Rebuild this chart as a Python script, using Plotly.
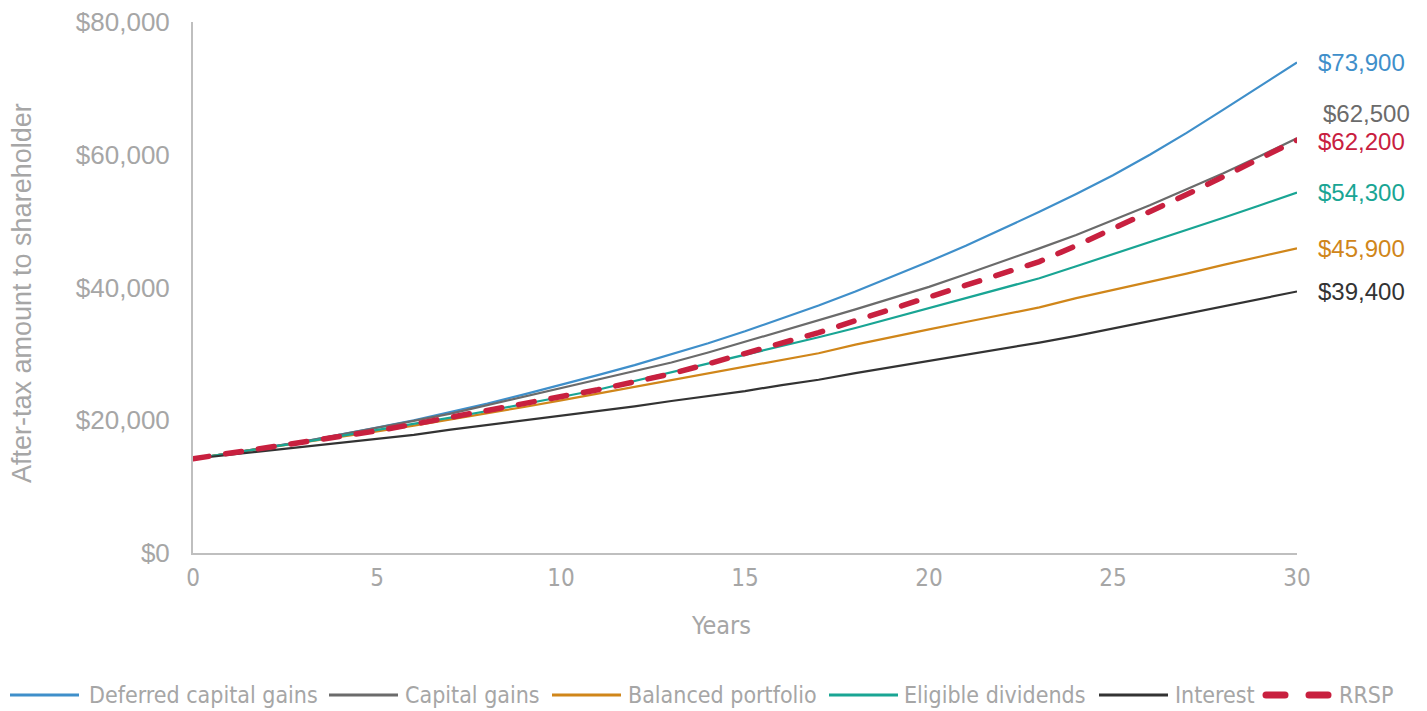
import plotly.graph_objects as go

years = list(range(0, 31))

deferred_cg = [14.2, 15.0, 15.9, 16.8, 17.8, 18.9, 20.0, 21.2, 22.5, 23.9, 25.3,
               26.8, 28.3, 29.9, 31.6, 33.4, 35.3, 37.3, 39.4, 41.6, 43.9,
               46.3, 48.8, 51.4, 54.1, 56.9, 60.0, 63.3, 66.8, 70.3, 73.9]
capital_gains = [14.2, 15.0, 15.9, 16.8, 17.8, 18.8, 19.9, 21.0, 22.3, 23.6, 24.8,
                 26.1, 27.4, 28.7, 30.2, 31.8, 33.4, 35.1, 36.7, 38.4, 40.1,
                 42.0, 43.9, 45.9, 47.9, 50.1, 52.4, 54.8, 57.2, 59.8, 62.5]
balanced = [14.2, 15.0, 15.8, 16.6, 17.4, 18.3, 19.2, 20.1, 21.0, 22.0, 23.0,
            24.0, 25.0, 26.1, 27.1, 28.1, 29.1, 30.1, 31.4, 32.6, 33.7,
            34.8, 35.9, 37.0, 38.4, 39.6, 40.8, 42.1, 43.4, 44.6, 45.9]
eligible_div = [14.2, 15.0, 15.8, 16.7, 17.6, 18.5, 19.5, 20.4, 21.4, 22.4, 23.5,
                24.6, 25.9, 27.2, 28.5, 29.9, 31.2, 32.5, 33.9, 35.4, 36.9,
                38.4, 39.9, 41.4, 43.2, 45.0, 46.8, 48.6, 50.5, 52.4, 54.3]
interest = [14.2, 14.8, 15.3, 15.9, 16.6, 17.2, 17.8, 18.6, 19.3, 20.0, 20.6,
            21.4, 22.1, 22.9, 23.6, 24.4, 25.3, 26.1, 27.1, 28.0, 29.0,
            29.9, 30.8, 31.7, 32.7, 33.8, 34.9, 36.1, 37.2, 38.2, 39.4]
rrsp = [14.2, 15.0, 15.8, 16.7, 17.5, 18.4, 19.4, 20.4, 21.4, 22.4, 23.5,
        24.6, 25.8, 27.0, 28.5, 30.0, 31.6, 33.2, 35.0, 36.8, 38.6,
        40.3, 42.1, 43.9, 46.3, 48.8, 51.4, 54.0, 56.7, 59.4, 62.2]

series_names = ["Deferred capital gains", "Capital gains", "Balanced portfolio",
                "Eligible dividends", "Interest", "RRSP"]
series_values = [deferred_cg, capital_gains, balanced, eligible_div, interest, rrsp]
end_labels = ["$73,900", "$62,500", "$45,900", "$54,300", "$39,400", "$62,200"]

y_ticks = [0, 20000, 40000, 60000, 80000]
y_tick_labels = ["$0", "$20,000", "$40,000", "$60,000", "$80,000"]
x_ticks = [0, 5, 10, 15, 20, 25, 30]

colors = ["#3f8fca", "#6b6b6b", "#d0861a", "#19a594", "#333333", "#c8203f"]
widths = [2.2, 2.2, 2.2, 2.2, 2.2, 5.5]
dashes = ["solid", "solid", "solid", "solid", "solid", "16px,17px"]
label_yshift = [0, 25, 0, 0, 0, -1]
label_xshift = [19, 24, 19, 19, 19, 19]

# legend layout (page pixels): sample line start, text start
legend_line_x0 = [10, 329, 552, 829, 1099, 1262]
legend_text_x = [87, 403, 626, 902, 1173, 1337]

NARROW = "DejaVu Sans Condensed, Liberation Sans Narrow, Arial Narrow, sans-serif"
SANS = "Liberation Sans, Arial, sans-serif"
GREY = "#a6a6a6"

L, R, T, B = 193, 1297, 22, 553
W_PLOT, H_PLOT = R - L, B - T


def px_x(p):
    return (p - L) / W_PLOT


def px_y(p):
    return (B - p) / H_PLOT


fig = go.Figure()
for name, vals, c, w, d in zip(series_names, series_values, colors, widths, dashes):
    fig.add_trace(go.Scatter(
        x=years, y=[v * 1000 for v in vals], mode="lines", name=name,
        line=dict(color=c, width=w, dash=d), cliponaxis=False, showlegend=False,
    ))

for vals, lab, c, ys, xs in zip(series_values, end_labels, colors, label_yshift, label_xshift):
    fig.add_annotation(
        x=years[-1], y=vals[-1] * 1000, text=lab, showarrow=False,
        xanchor="left", yanchor="middle", xshift=xs, yshift=ys,
        font=dict(family=SANS, size=24, color=c),
    )

# custom legend
LEG_Y = 695
for i, (name, c) in enumerate(zip(series_names, colors)):
    x0 = legend_line_x0[i]
    if name == "RRSP":
        for a, b in [(x0 + 4, x0 + 23), (x0 + 47, x0 + 66)]:
            fig.add_shape(type="line", xref="paper", yref="paper",
                          x0=px_x(a), x1=px_x(b), y0=px_y(LEG_Y), y1=px_y(LEG_Y),
                          line=dict(color=c, width=7))
    else:
        fig.add_shape(type="line", xref="paper", yref="paper",
                      x0=px_x(x0), x1=px_x(x0 + 69), y0=px_y(LEG_Y), y1=px_y(LEG_Y),
                      line=dict(color=c, width=3))
    fig.add_annotation(
        x=px_x(legend_text_x[i]), y=px_y(LEG_Y), xref="paper", yref="paper",
        text=name, showarrow=False, xanchor="left", yanchor="middle",
        font=dict(family=NARROW, size=23, color=GREY),
    )

fig.add_annotation(
    x=px_x(721), y=px_y(626), xref="paper", yref="paper", text="Years",
    showarrow=False, xanchor="center", yanchor="middle",
    font=dict(family=NARROW, size=25, color=GREY),
)
fig.add_annotation(
    x=px_x(22), y=px_y(293), xref="paper", yref="paper",
    text="After-tax amount to shareholder", textangle=-90,
    showarrow=False, xanchor="center", yanchor="middle",
    font=dict(family=SANS, size=27, color=GREY),
)

fig.update_layout(
    width=1427, height=711,
    margin=dict(l=L, r=1427 - R, t=T, b=711 - B, autoexpand=False),
    paper_bgcolor="white", plot_bgcolor="white",
    showlegend=False,
    xaxis=dict(
        range=[0, 30], tickvals=x_ticks, showgrid=False, zeroline=False,
        showline=True, linecolor="#bfbfbf", linewidth=2, automargin=False,
        tickfont=dict(family=NARROW, size=24, color=GREY), ticks="",
        ticklabelstandoff=2,
    ),
    yaxis=dict(
        range=[0, 80000], tickvals=y_ticks, ticktext=y_tick_labels,
        showgrid=False, zeroline=False, showline=True, linecolor="#bfbfbf",
        linewidth=2, ticks="", ticklabelstandoff=16, automargin=False,
        tickfont=dict(family=SANS, size=26, color=GREY),
    ),
)

post = """
document.body.style.margin='0px';
document.body.style.overflow='hidden';
var tr = document.querySelectorAll('.scatterlayer .trace');
if (tr.length) {
  var p = tr[tr.length-1].querySelector('path.js-line');
  if (p) { p.style.strokeLinecap = 'round'; }
}
var sh = document.querySelectorAll('.shapelayer path');
for (var i = Math.max(0, sh.length-2); i < sh.length; i++) {
  sh[i].style.strokeLinecap = 'round';
}
"""

fig.write_html("out.html", config={"displayModeBar": False}, post_script=post)
